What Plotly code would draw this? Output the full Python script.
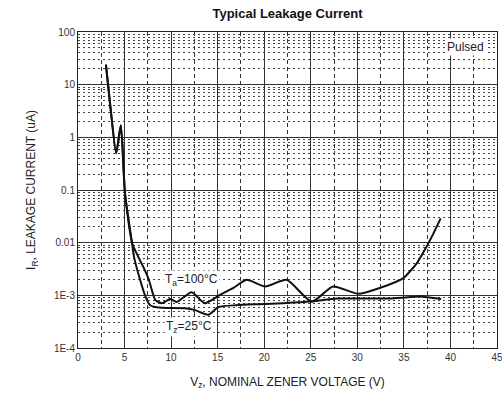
import plotly.graph_objects as go

# Shared steep start (both curves)
start_v = [3.0, 3.5, 4.1, 4.6, 5.05, 5.8]
start_i = [24.0, 3.5, 0.5, 1.7, 0.085, 0.01]

# Ta = 100 C curve (upper)
hot_v = [6.45, 7.0, 7.6, 8.3, 9.0, 9.9, 10.6, 12.2, 13.6, 15.25, 16.7, 18.1, 20.1, 22.4,
         25.1, 27.4, 30.1, 32.4, 34.9, 36.4, 37.45, 38.0, 38.95]
hot_i = [0.0055, 0.0035, 0.002, 0.00082, 0.00071, 0.00085, 0.00075, 0.00115, 0.00071,
         0.00102, 0.00138, 0.00197, 0.00147, 0.00197, 0.00076, 0.00147, 0.00107, 0.00138,
         0.0021, 0.0041, 0.0085, 0.013, 0.029]

# Tz = 25 C curve (lower)
cold_v = [6.0, 6.66, 7.2, 7.7, 8.1, 9.0, 11.5, 12.5, 14.0, 15.1, 17.0, 19.5, 22.0, 24.9,
          27.8, 30.0, 33.5, 36.7, 39.0]
cold_i = [0.0055, 0.002, 0.001, 0.00066, 0.00061, 0.00058, 0.00057, 0.00053, 0.00043,
          0.0006, 0.00065, 0.00068, 0.00071, 0.00076, 0.00087, 0.00087, 0.00087, 0.00095,
          0.00085]

y_tickvals = [1e-4, 1e-3, 0.01, 0.1, 1, 10, 100]
y_ticktext = ["1E-4", "1E-3", "0.01", "0.1", "1", "10", "100"]
x_tickvals = [0, 5, 10, 15, 20, 25, 30, 35, 40, 45]

line_style = dict(color="#111111", width=2, shape="spline", smoothing=0.6)

fig = go.Figure()
fig.add_trace(go.Scatter(x=start_v + hot_v, y=start_i + hot_i, mode="lines",
                         line=line_style, showlegend=False, hoverinfo="skip"))
fig.add_trace(go.Scatter(x=start_v + cold_v, y=start_i + cold_i, mode="lines",
                         line=line_style, showlegend=False, hoverinfo="skip"))

fig.update_layout(
    width=502, height=407,
    margin=dict(l=78, r=5, t=32, b=59, autoexpand=False),
    paper_bgcolor="white", plot_bgcolor="white",
    font=dict(family="Liberation Sans, Arial, sans-serif", color="#333333", size=10),
    title=dict(text="<b>Typical Leakage Current</b>", x=0.5, xref="paper",
               xanchor="center",
               y=1 - 13 / 407, yref="container", yanchor="middle",
               font=dict(size=13, color="#111111")),
    xaxis=dict(range=[0, 45], tickvals=x_tickvals, ticks="", automargin=False,
               ticklabeloverflow="allow",
               showgrid=True, gridcolor="#333333", gridwidth=1,
               showline=True, linecolor="#222222", linewidth=1, mirror=True,
               zeroline=False,
               minor=dict(dtick=2.5, tick0=0, showgrid=True, gridcolor="#333333",
                          griddash="4px,3px", gridwidth=1, ticks=""),
               title=dict(text="V<sub>z</sub>, NOMINAL ZENER VOLTAGE (V)",
                          font=dict(size=12, color="#222222"))),
    yaxis=dict(type="log", range=[-4, 2], tickvals=y_tickvals, ticktext=y_ticktext,
               ticks="", automargin=False, showgrid=True, gridcolor="#333333", gridwidth=1,
               showline=True, linecolor="#222222", linewidth=1, mirror=True,
               zeroline=False,
               minor=dict(dtick="D1", showgrid=True, gridcolor="#444444",
                          griddash="2px,3px", gridwidth=1, ticks=""),
               title=dict(text="I<sub>R</sub>, LEAKAGE CURRENT (uA)",
                          font=dict(size=12, color="#222222"))),
)

fig.add_annotation(x=41.6, y=1.715, yref="y", xref="x", text="Pulsed",
                   showarrow=False, font=dict(size=12, color="#222222"),
                   bgcolor="white")
fig.add_annotation(x=12.2, y=-2.706, text="T<sub>a</sub>=100°C", showarrow=False,
                   font=dict(size=12, color="#222222"), bgcolor="white")
fig.add_annotation(x=11.9, y=-3.6, text="T<sub>z</sub>=25°C", showarrow=False,
                   font=dict(size=12, color="#222222"), bgcolor="white")

fig.write_html("out.html",
               config={"displayModeBar": False},
               post_script="document.body.style.margin='0';document.body.style.padding='0';")
